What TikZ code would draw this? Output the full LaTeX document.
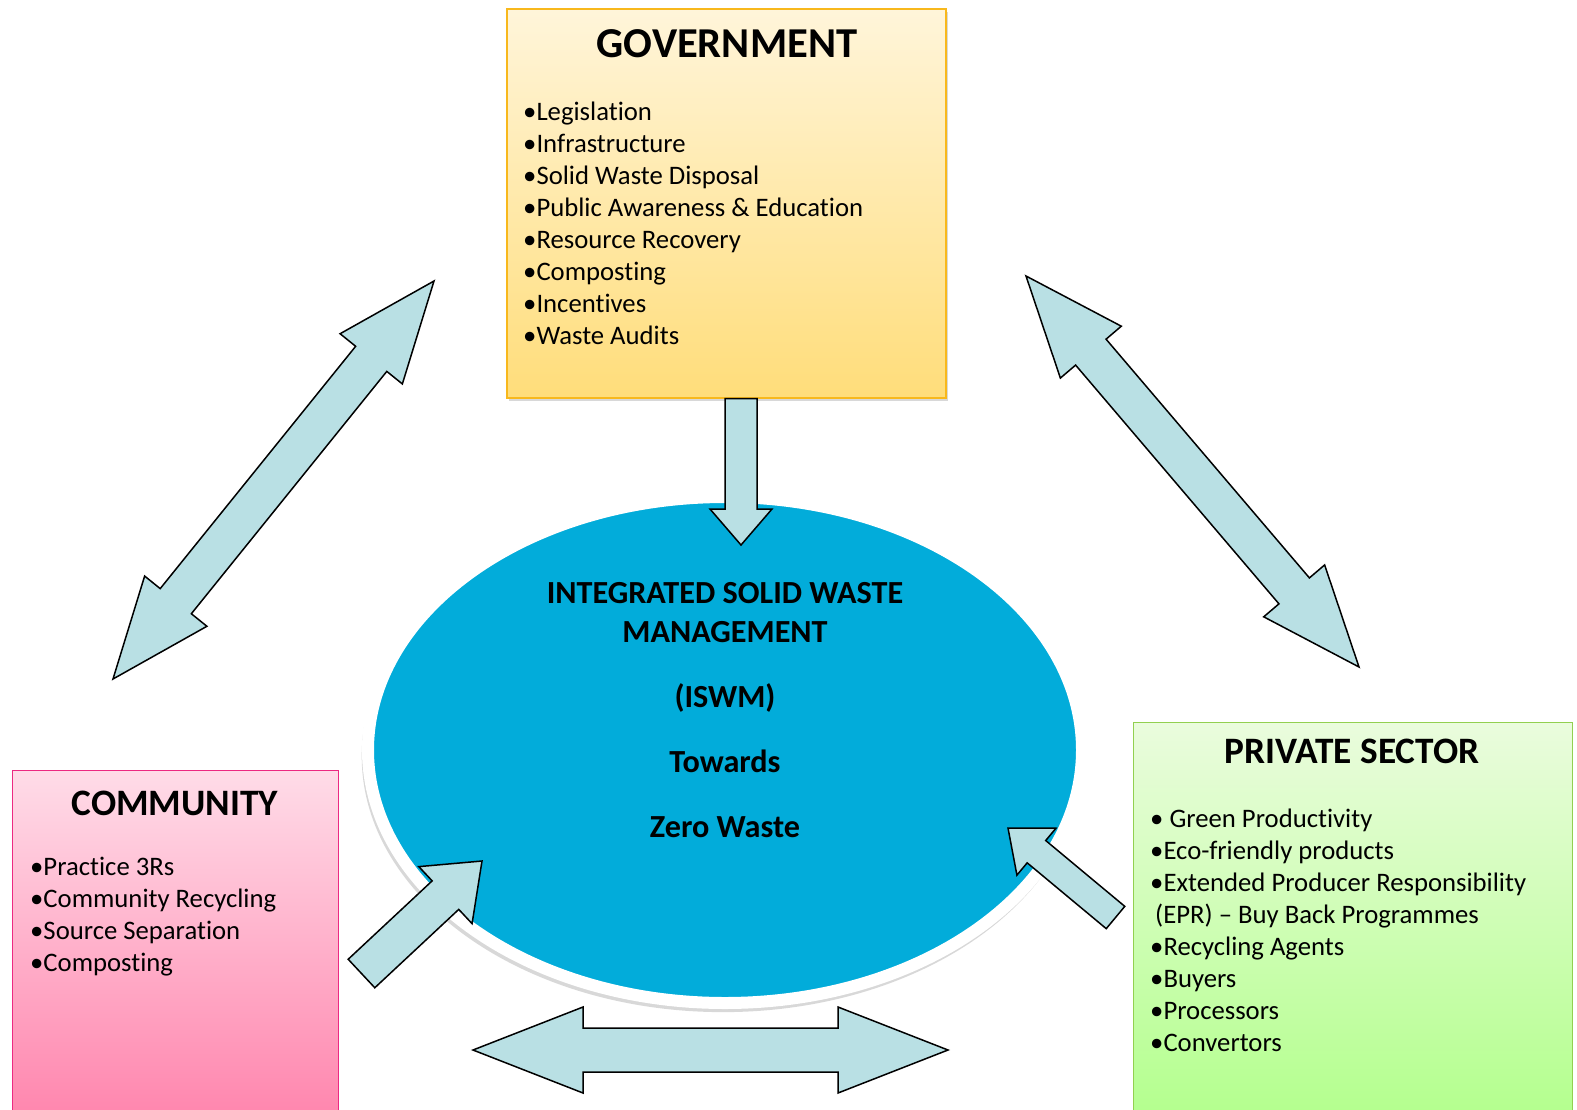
\documentclass[tikz,border=0pt]{standalone}
\usepackage{fontspec}
\setmainfont{Carlito}[Ligatures=NoCommon]
\usetikzlibrary{shapes,shadows}
\usetikzlibrary{calc}
\usetikzlibrary{positioning}

\definecolor{govtop}{HTML}{FFF5DA}
\definecolor{govbot}{HTML}{FFDD7A}
\definecolor{govline}{HTML}{F8B81C}
\definecolor{comtop}{HTML}{FFDCE8}
\definecolor{combot}{HTML}{FF86AE}
\definecolor{comline}{HTML}{EC2A82}
\definecolor{privtop}{HTML}{EAFCDD}
\definecolor{privbot}{HTML}{B4FF8E}
\definecolor{privline}{HTML}{92D050}
\definecolor{iswmblue}{HTML}{02ACDA}
\definecolor{arrowfill}{HTML}{B9E0E4}

% block arrow with two heads: name, tip, tip, shaft half, head half, head length
\newcommand{\twowayarrow}[6]{%
  \path ($(#2)!#6!(#3)$) coordinate (#1p) ($(#3)!#6!(#2)$) coordinate (#1q);
  \draw[blockarrow] (#2) -- ($(#1p)!#5!90:(#3)$) -- ($(#1p)!#4!90:(#3)$)
    -- ($(#1q)!#4!-90:(#2)$) -- ($(#1q)!#5!-90:(#2)$) -- (#3)
    -- ($(#1q)!#5!90:(#2)$) -- ($(#1q)!#4!90:(#2)$)
    -- ($(#1p)!#4!-90:(#3)$) -- ($(#1p)!#5!-90:(#3)$) -- cycle;}
% block arrow with one head: name, tail, tip, shaft half, head half, head length
\newcommand{\onewayarrow}[6]{%
  \path ($(#3)!#6!(#2)$) coordinate (#1p);
  \draw[blockarrow] ($(#2)!#4!90:(#3)$) -- ($(#1p)!#4!90:(#3)$)
    -- ($(#1p)!#5!90:(#3)$) -- (#3) -- ($(#1p)!#5!-90:(#3)$)
    -- ($(#1p)!#4!-90:(#3)$) -- ($(#2)!#4!-90:(#3)$) -- cycle;}

\begin{document}
\begin{tikzpicture}[x=1pt, y=-1pt,
    box/.style={rectangle, inner sep=0pt, anchor=north west},
    govbox/.style={box, draw=govline, line width=1.6pt, top color=govtop, bottom color=govbot,
        drop shadow={shadow xshift=2pt, shadow yshift=-3pt, opacity=.3}},
    combox/.style={box, draw=comline, line width=1.4pt, top color=comtop, bottom color=combot},
    privbox/.style={box, draw=privline, line width=1.4pt, top color=privtop, bottom color=privbot},
    heading/.style={font=\bfseries\fontsize{37.3}{45}\selectfont, inner sep=0pt, anchor=base},
    items/.style={font=\fontsize{26.7}{32}\selectfont, align=left, inner sep=0pt, anchor=base west},
    blockarrow/.style={draw=black, line width=1.5pt, fill=arrowfill, line join=miter}]
\clip (0,0) rectangle (1577,1109);
\fill[white] (0,0) rectangle (1577,1109);

% centre (multi-line nodes sit on the baseline of their last line)
\node[ellipse, minimum width=714pt, minimum height=506pt, inner sep=0pt,
    fill=iswmblue, draw=white, line width=12pt,
    drop shadow={shadow xshift=-2pt, shadow yshift=-6pt, shadow scale=1.012, opacity=.3}] (iswm) at (725,750) {};
\node[font=\bfseries\fontsize{32.2}{39}\selectfont, align=center, inner sep=0pt, anchor=base]
    (iswmtxt) at (725,837) {INTEGRATED SOLID WASTE\\MANAGEMENT\\[26pt](ISWM)\\[26pt]Towards\\[26pt]Zero Waste};

% actors
\node[govbox, minimum width=439pt, minimum height=389pt] (gov) at (506,8) {};
\node[heading, font=\bfseries\fontsize{42.6}{50}\selectfont] (govtitle) at (727,57) {GOVERNMENT};
\node[items] (govlist) at (523,344) {•Legislation\\•Infrastructure\\•Solid Waste Disposal\\
    •Public Awareness \& Education\\•Resource Recovery\\•Composting\\•Incentives\\•Waste Audits};

\node[combox, minimum width=326pt, minimum height=345pt] (com) at (12,770) {};
\node[heading] (comtitle) at (175,815) {COMMUNITY};
\node[items] (comlist) at (30,971) {•Practice 3Rs\\•Community Recycling\\•Source Separation\\•Composting};

\node[privbox, minimum width=439pt, minimum height=393pt] (priv) at (1133,722) {};
\node[heading] (privtitle) at (1352,763) {PRIVATE SECTOR};
\node[items] (privlist) at (1150,1051) {• Green Productivity\\•Eco-friendly products\\
    •Extended Producer Responsibility\\\hspace*{5pt}(EPR) – Buy Back Programmes\\
    •Recycling Agents\\•Buyers\\•Processors\\•Convertors};

% arrow ends
\coordinate (govL) at (434,281);  \coordinate (comU) at (113,679);
\coordinate (govR) at (1026,276); \coordinate (privU) at (1359,667);
\coordinate (comR) at (473,1050); \coordinate (privL) at (948,1050);
\coordinate (govS) at (gov.south -| 741,0); \coordinate (iswmN) at (741,545);
\coordinate (comT) at (361.5,973.5); \coordinate (iswmSW) at (482,861);
\coordinate (privT) at (1115.5,917.5); \coordinate (iswmSE) at (1008,828);

\twowayarrow{gc}{govL}{comU}{20pt}{40pt}{100pt}
\twowayarrow{gp}{govR}{privU}{20pt}{40pt}{100pt}
\twowayarrow{cp}{comR}{privL}{22pt}{43pt}{110pt}
\onewayarrow{gi}{govS}{iswmN}{16pt}{31pt}{36pt}
\onewayarrow{ci}{comT}{iswmSW}{19.5pt}{39pt}{50pt}
\onewayarrow{pi}{privT}{iswmSE}{14.5pt}{30.5pt}{37pt}
\end{tikzpicture}
\end{document}
